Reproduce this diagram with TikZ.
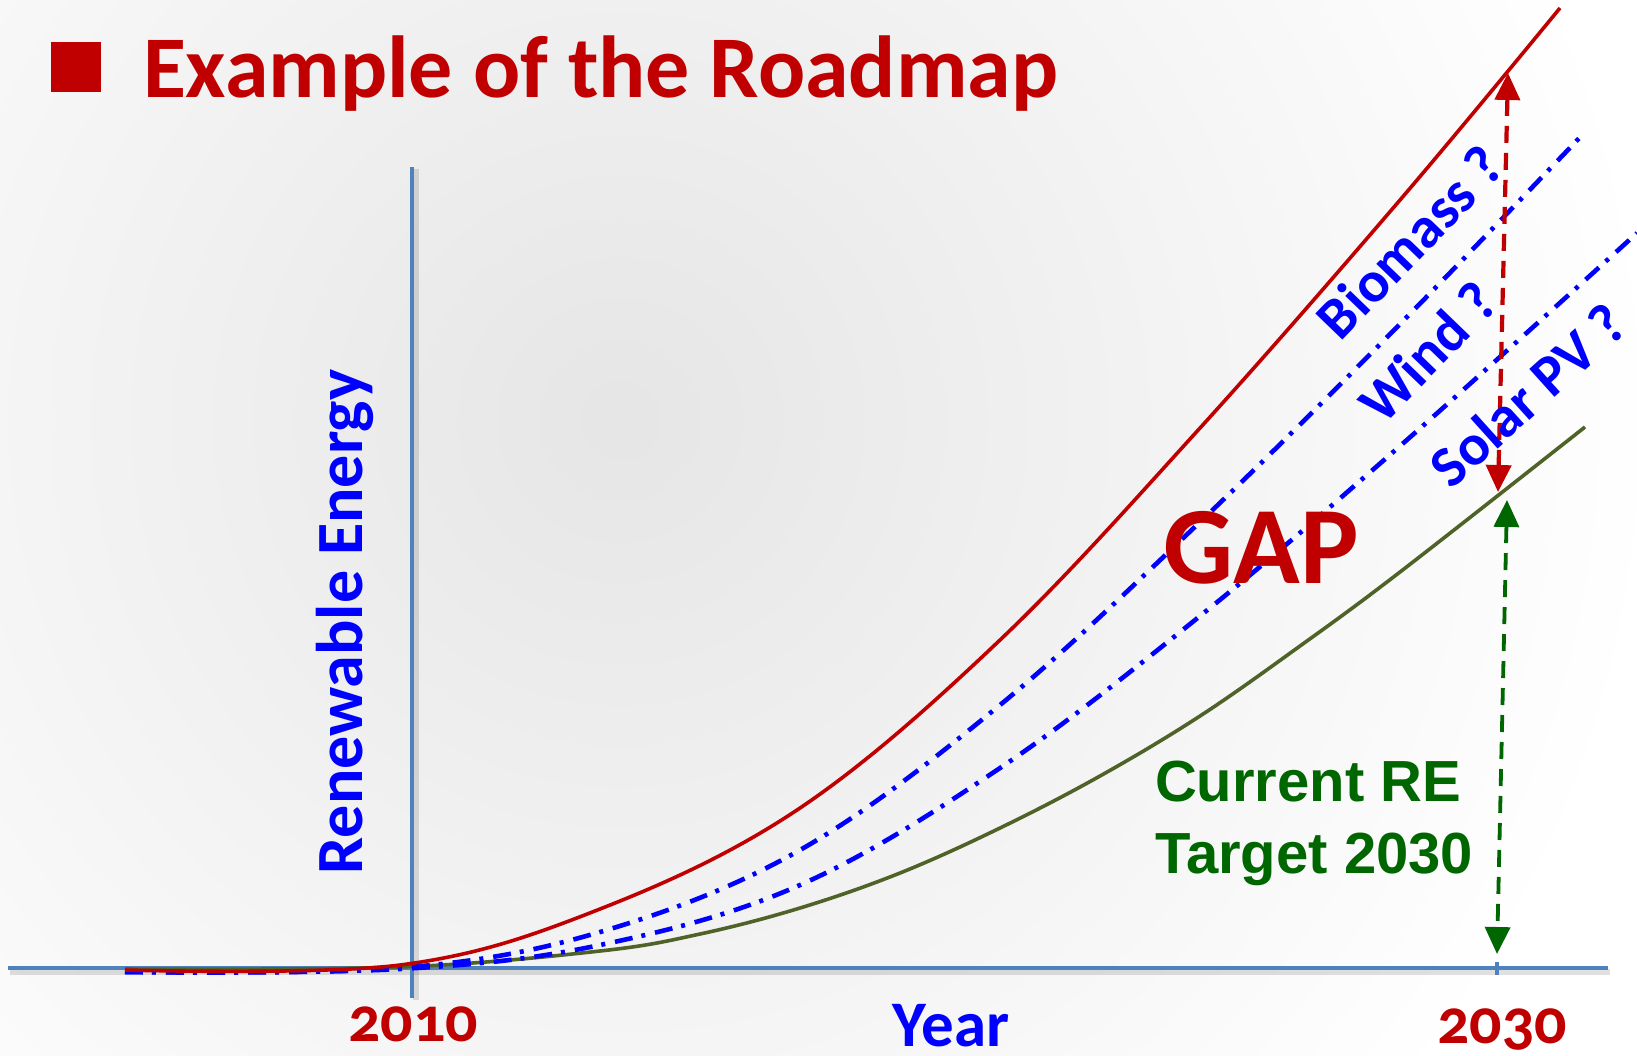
\documentclass[tikz,border=0pt]{standalone}
\usepackage{fontspec}
\setmainfont{Carlito}
\newfontfamily\osfont[Numbers=OldStyle]{Carlito}
\newfontfamily\arialfont{Liberation Sans}
\usetikzlibrary{arrows.meta}
\definecolor{dred}{HTML}{C00000}
\definecolor{axblue}{HTML}{4F81BD}
\definecolor{pblue}{HTML}{0000FF}
\definecolor{dgreen}{HTML}{006600}
\definecolor{olivec}{HTML}{4F6228}
\newcommand{\myfs}[1]{\fontsize{#1}{#1}\selectfont}
\begin{document}
\begin{tikzpicture}[x=0.5pt,y=-0.5pt,
  txt/.style={inner sep=0pt, outer sep=0pt},
  axisline/.style={draw=axblue, line width=2.3pt},
  axshadow/.style={draw=black, opacity=0.12, line width=2.6pt},
  redcurve/.style={draw=dred, line width=1.8pt},
  greencurve/.style={draw=olivec, line width=1.8pt},
  bluecurve/.style={draw=pblue, line width=2.3pt, dash pattern=on 9pt off 4.5pt on 2pt off 5pt},
  redarrow/.style={draw=dred, line width=2.1pt, dash pattern=on 8.5pt off 5pt,
    {Triangle[width=12.5pt,length=13.5pt]}-{Triangle[width=12.5pt,length=13.5pt]}},
  greenarrow/.style={draw=dgreen, line width=1.9pt, dash pattern=on 8.5pt off 5pt,
    {Triangle[width=12.5pt,length=13.5pt]}-{Triangle[width=12.5pt,length=13.5pt]}},
  rotlab/.style={txt, anchor=base, text=pblue, font=\bfseries\myfs{29}}
]
\useasboundingbox (0,0) rectangle (1637,1055);
\fill[white] (0,0) rectangle (1637,1055);
% faint background
\shade[inner color=black!10, outer color=white] (-420,-620) rectangle (1660,1460);

% title
\fill[dred] (51,42) rectangle (101,92);
\node[txt, anchor=base west, text=dred, font=\bfseries\myfs{44}] (title) at (143,97) {Example of the Roadmap};

% axes
\coordinate (xl) at (8,968);
\coordinate (xr) at (1608,968);
\coordinate (yt) at (412,167);
\coordinate (yb) at (412,998);
\coordinate (t30a) at (1497,962);
\coordinate (t30b) at (1497,975);
\draw[axshadow] ([shift={(2,4)}]xl) -- ([shift={(2,4)}]xr);
\draw[axshadow] ([shift={(4,2)}]yt) -- ([shift={(4,2)}]yb);
\draw[axisline] (xl) -- (xr);
\draw[axisline] (yt) -- (yb);
\draw[axisline] (t30a) -- (t30b);

% curves
\draw[greencurve] plot[smooth, tension=0.6] coordinates {(125,969) (400,967) (600,951) (700,934) (800,908) (900,873) (1000,828) (1100,776) (1200,716) (1300,646) (1400,572) (1585,427)};
\draw[bluecurve] plot[smooth, tension=0.6] coordinates {(125,972) (400,969) (600,945) (800,885) (1000,768) (1200,616) (1400,446) (1637,233)};
\draw[bluecurve] plot[smooth, tension=0.6] coordinates {(125,972) (400,968) (600,932) (800,850) (1000,705) (1200,522) (1400,324) (1585,132)};
\draw[redcurve] plot[smooth, tension=0.6] coordinates {(125,970) (400,965) (600,909) (800,808) (1000,640) (1200,428) (1400,200) (1560,8)};

% gap arrows
\coordinate (rtop) at (1508,73);
\coordinate (rbot) at (1498,492);
\coordinate (gtop) at (1507,500);
\coordinate (gbot) at (1497,954);
\draw[redarrow] (rtop) -- (rbot);
\draw[greenarrow] (gtop) -- (gbot);

% labels
\node[txt, rotate=90, anchor=base, text=pblue, font=\bfseries\myfs{33}] (ylab) at (362,622) {Renewable Energy};
\node[txt, anchor=base, text=dred, font=\osfont\bfseries\myfs{32}] (y2010) at (413,1041) {2010};
\node[txt, anchor=base, text=pblue, font=\bfseries\myfs{32.5}] (year) at (951,1046) {Year};
\node[txt, anchor=base, text=dred, font=\osfont\bfseries\myfs{32}] (y2030) at (1502,1043) {2030};
\node[txt, anchor=base, text=dred, font=\bfseries\myfs{55}] (gap) at (1261,583) {GAP};
\node[txt, anchor=base west, text=dgreen, font=\arialfont\bfseries\myfs{29}] (cur1) at (1155,801) {Current RE};
\node[txt, anchor=base west, text=dgreen, font=\arialfont\bfseries\myfs{29}] (cur2) at (1155,873) {Target 2030};
\node[rotlab, rotate=46] (bio) at (1424,256) {Biomass ?};
\node[rotlab, rotate=46] (wind) at (1442,366) {Wind ?};
\node[rotlab, rotate=42] (solar) at (1541,410) {Solar PV ?};
\end{tikzpicture}
\end{document}
